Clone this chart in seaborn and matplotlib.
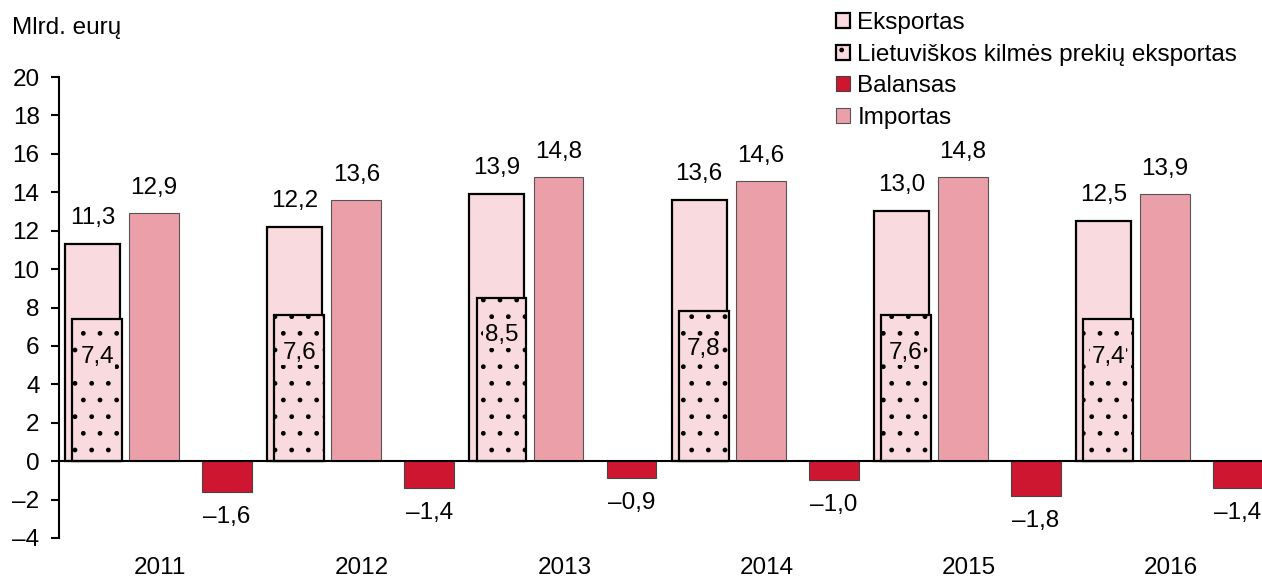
import numpy as np
import seaborn as sns
import matplotlib.pyplot as plt
from matplotlib.patches import Patch

## Data
years = ["2011", "2012", "2013", "2014", "2015", "2016"]
eksportas = [11.3, 12.2, 13.9, 13.6, 13.0, 12.5]
lt_kilmes = [7.4, 7.6, 8.5, 7.8, 7.6, 7.4]
importas = [12.9, 13.6, 14.8, 14.6, 14.8, 13.9]
balansas = [-1.6, -1.4, -0.9, -1.0, -1.8, -1.4]

## Style
sns.set_style("white")
plt.rcParams["font.family"] = ["Liberation Sans", "DejaVu Sans"]
plt.rcParams["hatch.linewidth"] = 1.0
plt.rcParams["text.color"] = "black"
plt.rcParams["xtick.color"] = "black"
plt.rcParams["ytick.color"] = "black"

c_eks = "#F9DADF"
c_imp = "#EBA0A9"
c_bal = "#CE1630"

def fmt(v):
    s = f"{abs(v):.1f}".replace(".", ",")
    return ("\u2013" + s) if v < 0 else s

def fmt_int(v):
    return ("\u2013" + str(abs(v))) if v < 0 else str(v)

fig = plt.figure(figsize=(12.62, 5.80), dpi=100)
ax = fig.add_axes([59 / 1262, 1 - 538 / 580, 1 - 59 / 1262, (538 - 77) / 580])

x = np.arange(len(years))

ax.bar(x - 0.47, eksportas, width=0.272, align="edge", color=c_eks,
       edgecolor="black", linewidth=1.6, zorder=2)
ax.bar(x - 0.435, lt_kilmes, width=0.247, align="edge", color=c_eks,
       edgecolor="black", linewidth=1.6, hatch=".", zorder=3)
ax.bar(x - 0.153, importas, width=0.247, align="edge", color=c_imp,
       edgecolor="#555555", linewidth=0.8, zorder=2)
ax.bar(x + 0.208, balansas, width=0.247, align="edge", color=c_bal,
       edgecolor="#444444", linewidth=0.8, zorder=2)

ax.axhline(0, color="black", linewidth=1.5, zorder=4)

fs = 17.5
for i in range(len(years)):
    ax.annotate(fmt(eksportas[i]), (x[i] - 0.334, eksportas[i]), xytext=(0, 11),
                textcoords="offset points", ha="center", va="bottom", fontsize=fs)
    ax.annotate(fmt(importas[i]), (x[i] - 0.03, importas[i]), xytext=(0, 10),
                textcoords="offset points", ha="center", va="bottom", fontsize=fs)
    ax.annotate(fmt(lt_kilmes[i]), (x[i] - 0.311, lt_kilmes[i]), xytext=(0, -27),
                textcoords="offset points", ha="center", va="center", fontsize=fs,
                zorder=5, bbox=dict(fc=c_eks, ec="none", pad=1))
    ax.annotate(fmt(balansas[i]), (x[i] + 0.331, balansas[i]), xytext=(0, -18),
                textcoords="offset points", ha="center", va="center", fontsize=fs)

ax.set_xlim(-0.5, 5.45)
ax.set_ylim(-4, 20)
yt = list(range(-4, 21, 2))
ax.set_yticks(yt)
ax.set_yticklabels([fmt_int(v) for v in yt], fontsize=fs)
ax.set_xticks(x)
ax.set_xticklabels(years, fontsize=fs)
ax.tick_params(axis="x", length=0, pad=14)
ax.tick_params(axis="y", length=6, width=1.5, direction="out", pad=8, left=True)

for side in ["top", "right", "bottom"]:
    ax.spines[side].set_visible(False)
ax.spines["left"].set_linewidth(1.5)
ax.spines["left"].set_color("black")

fig.text(12 / 1262, 1 - 28 / 580, "Mlrd. eurų", fontsize=fs, va="center", ha="left")

handles = [
    Patch(facecolor=c_eks, edgecolor="black", linewidth=1.6),
    Patch(facecolor=c_eks, edgecolor="black", linewidth=1.6, hatch="."),
    Patch(facecolor=c_bal, edgecolor="#444444", linewidth=0.8),
    Patch(facecolor=c_imp, edgecolor="#555555", linewidth=0.8),
]
labels = ["Eksportas", "Lietuviškos kilmės prekių eksportas", "Balansas", "Importas"]
fig.legend(handles, labels, loc="upper left", bbox_to_anchor=(836 / 1262, 1 - 12 / 580),
           frameon=False, fontsize=fs, handlelength=0.58, handleheight=0.58,
           handletextpad=0.3, labelspacing=0.4, borderaxespad=0, borderpad=0)

fig.savefig("out.png", dpi=100)
